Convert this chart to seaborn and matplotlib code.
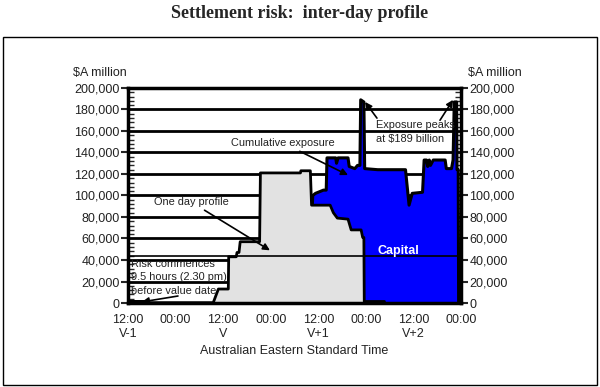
import numpy as np
import pandas as pd
import seaborn as sns
import matplotlib.pyplot as plt
from matplotlib.patches import Rectangle
from matplotlib.ticker import MultipleLocator, FuncFormatter

# hours after 12:00 on V-1, values in $A million
one_day_hours = [0, 5, 5.2, 21.5, 22.8, 25.3, 25.4, 27.3, 27.5, 28.0, 28.3, 33.2, 33.4,
                 43.5, 43.6, 46.0, 46.3, 51.0, 51.8, 52.8, 55.5, 56.3, 58.8, 59.2, 59.5, 59.6]
one_day_vals = [1500, 1500, 300, 300, 13000, 13000, 43000, 43000, 47000, 47000, 57000, 57000, 121000,
                121000, 123000, 123000, 91000, 91000, 84000, 79000, 78000, 68000, 68000, 61000, 61000, 0]

cum_hours = [46.5, 46.6, 47.3, 49.3, 50.0, 50.2, 52.4, 52.6, 53.0, 55.5, 55.8, 57.2, 57.9, 58.5,
             58.7, 59.5, 59.7, 63.0, 66.0, 70.0, 70.9, 71.7, 74.3, 74.7, 75.3, 75.6, 76.0,
             76.3, 77.0, 80.0, 80.3, 81.6, 82.0, 82.3, 82.9, 83.0, 83.3, 83.4]
cum_vals = [91000, 100000, 102000, 105000, 105000, 135000, 135000, 130000, 135000, 135000, 127000,
            125000, 128000, 128000, 189000, 187000, 125000, 124000, 124000, 124000, 91000, 102000,
            103000, 133000, 133000, 127000, 133000, 128000, 133000, 133000, 125000, 125000, 133000,
            187000, 187000, 124000, 124000, 0]

next_hours = [59.8, 64.5]
next_vals = [1800, 1800]

capital = 43500

tick_hours = list(range(0, 85, 6))
tick_labels = {0: "12:00\nV-1", 12: "00:00", 24: "12:00\nV", 36: "00:00", 48: "12:00\nV+1",
               60: "00:00", 72: "12:00\nV+2", 84: "00:00"}

sns.set_style("white")
plt.rcParams['font.family'] = ['Liberation Sans', 'DejaVu Sans']

fig = plt.figure(figsize=(6, 3.87), dpi=100)
ax = fig.add_axes([128 / 600, 1 - 303 / 387, 333 / 600, 215 / 387])

# horizontal grid behind the areas
for v in range(20000, 200000, 20000):
    ax.axhline(v, color="black", lw=2, zorder=0.5)

cum = pd.DataFrame({"hours": cum_hours, "vals": cum_vals})
one = pd.DataFrame({"hours": one_day_hours, "vals": one_day_vals})

ax.fill_between(cum["hours"], cum["vals"], color="#0000ff", lw=0, zorder=1)
sns.lineplot(data=cum, x="hours", y="vals", ax=ax, color="black", lw=2.2,
             estimator=None, sort=False, zorder=1.1)
ax.fill_between(one["hours"], one["vals"], color="#e2e2e2", lw=0, zorder=1.2)
sns.lineplot(data=one, x="hours", y="vals", ax=ax, color="black", lw=2.0,
             estimator=None, sort=False, zorder=1.3)
sns.lineplot(x=next_hours, y=next_vals, ax=ax, color="black", lw=2.0,
             estimator=None, sort=False, zorder=1.3)

ax.axhline(capital, color="black", lw=1.2, zorder=2)

ax.set_xlim(0, 84)
ax.set_ylim(0, 200000)
ax.set_xticks(tick_hours)
ax.set_xticklabels([tick_labels.get(h, "") for h in tick_hours], fontsize=9, color="#222222")
ax.yaxis.set_major_locator(MultipleLocator(20000))
ax.yaxis.set_minor_locator(MultipleLocator(4000))
ax.yaxis.set_major_formatter(FuncFormatter(lambda v, p: f"{int(v):,}"))
ax.tick_params(axis="y", which="major", direction="out", length=5, width=1.5,
               labelsize=9, labelcolor="#222222", left=True, right=True, labelright=True, pad=1)
ax.tick_params(axis="y", which="minor", direction="in", length=4, width=1, left=True, right=True)
ax.tick_params(axis="x", which="major", direction="out", length=5, width=1.5, pad=3)
for s in ax.spines.values():
    s.set_linewidth(2.5)
    s.set_color("black")
ax.set_xlabel("Australian Eastern Standard Time", fontsize=9, color="#222222", labelpad=4)
ax.set_ylabel("")

fig.text(100 / 600, 1 - 73 / 387, "$A million", ha="center", va="center", fontsize=9, color="#222222")
fig.text(495 / 600, 1 - 73 / 387, "$A million", ha="center", va="center", fontsize=9, color="#222222")

fig.text(0.5, 1 - 14 / 387, "Settlement risk:  inter-day profile", ha="center", va="center",
         fontsize=13, fontweight="bold", family="Liberation Serif")
fig.patches.append(Rectangle((3 / 600, 2 / 387), 594 / 600, 348 / 387, transform=fig.transFigure,
                             fill=False, lw=1, edgecolor="black"))

arrow = dict(arrowstyle="-|>", color="black", lw=1.2, mutation_scale=10, shrinkA=0, shrinkB=0)
fs = 7.9
ax.annotate("Cumulative exposure", xy=(55.5, 119000), xytext=(39.1, 148800), ha="center",
            va="center", fontsize=fs, color="#222222", arrowprops=arrow, zorder=3)
ax.annotate("", xy=(59.8, 187000), xytext=(62.8, 172000), arrowprops=arrow, zorder=3)
ax.annotate("", xy=(82.0, 189000), xytext=(78.7, 170000), arrowprops=arrow, zorder=3)
ax.text(62.6, 159500, "Exposure peaks\nat $189 billion", ha="left", va="center", fontsize=fs,
        color="#222222", linespacing=1.5, zorder=3)
ax.annotate("One day profile", xy=(35.8, 49000), xytext=(15.9, 94000), ha="center", va="center",
            fontsize=fs, color="#222222", arrowprops=arrow, zorder=3)
ax.text(0.75, 24000, "Risk commences\n9.5 hours (2.30 pm)\nbefore value date", ha="left",
        va="center", fontsize=fs, color="#222222", linespacing=1.45, zorder=3)
ax.annotate("", xy=(3.5, 1000), xytext=(12.6, 6500), arrowprops=arrow, zorder=3)
ax.text(68.1, 48400, "Capital", ha="center", va="center", fontsize=9, fontweight="bold",
        color="white", zorder=3)

fig.savefig("out.png", dpi=100)
